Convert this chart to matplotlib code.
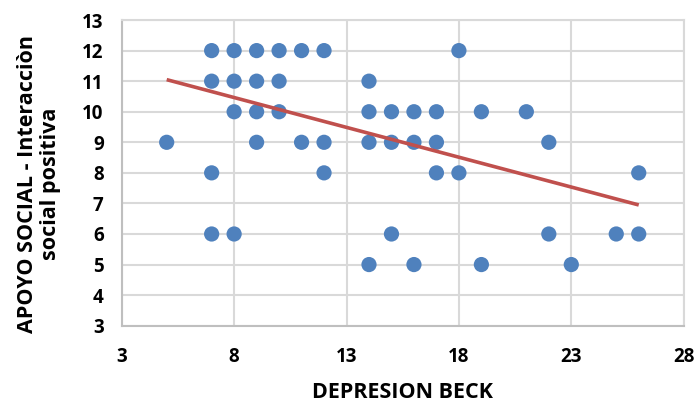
import matplotlib.pyplot as plt

plt.rcParams['font.family'] = ['Open Sans', 'DejaVu Sans']

# depresion beck (x) vs apoyo social (y)
depresion = [7, 8, 9, 10, 11, 12, 18,
             7, 8, 9, 10, 14,
             8, 9, 10, 14, 15, 16, 17, 19, 21,
             5, 9, 11, 12, 14, 15, 16, 17, 22,
             7, 12, 17, 18, 26,
             7, 8, 15, 22, 25, 26,
             14, 16, 19, 23]
apoyo = [12, 12, 12, 12, 12, 12, 12,
         11, 11, 11, 11, 11,
         10, 10, 10, 10, 10, 10, 10, 10, 10,
         9, 9, 9, 9, 9, 9, 9, 9, 9,
         8, 8, 8, 8, 8,
         6, 6, 6, 6, 6, 6,
         5, 5, 5, 5]

# extremos de la linea de tendencia
tend_x = [5, 26]
tend_y = [11.05, 6.95]

x_ticks = [3, 8, 13, 18, 23, 28]
y_ticks = list(range(3, 14))

fig = plt.figure(figsize=(6.98, 4.09), dpi=100)
ax = fig.add_axes([0.1744, 0.2037, 0.8051, 0.7473])

ax.scatter(depresion, apoyo, s=120, c='#4F81BD', edgecolors='none', zorder=3)
ax.plot(tend_x, tend_y, color='#C0504D', lw=2.6, zorder=4, solid_capstyle='butt')

ax.set_xlim(3, 28)
ax.set_ylim(3, 13)
ax.set_xticks(x_ticks)
ax.set_yticks(y_ticks)
ax.grid(True, color='#D9D9D9', lw=1.5, zorder=0)
for s in ax.spines.values():
    s.set_color('#D9D9D9')
    s.set_linewidth(1.5)
ax.spines['left'].set_color('#BFBFBF')
ax.spines['bottom'].set_color('#BFBFBF')
ax.tick_params(length=0, labelsize=13.5)
ax.tick_params(axis='y', pad=13)
ax.tick_params(axis='x', pad=15)
for lbl in ax.get_xticklabels() + ax.get_yticklabels():
    lbl.set_fontweight('bold')

ax.set_xlabel('DEPRESION BECK', fontsize=15.5, fontweight='bold', labelpad=11)
ax.set_ylabel('APOYO SOCIAL - Interacciòn\nsocial positiva', fontsize=15.5,
              fontweight='bold', linespacing=1.1)
ax.yaxis.set_label_coords(-0.108, 0.465)

plt.savefig('out.png', dpi=100)
